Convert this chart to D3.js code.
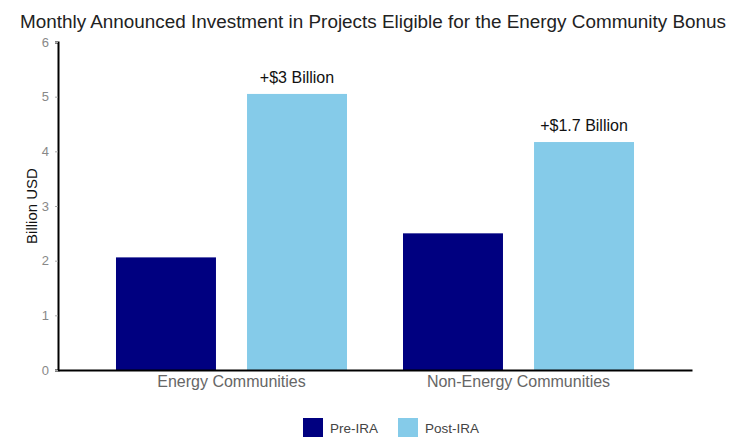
<!DOCTYPE html>
<html lang="en">
<head>
    <meta charset="UTF-8">
    <title>Energy Community Bonus</title>
    <script src="https://cdn.jsdelivr.net/npm/d3@7"></script>
    <style>
        body { margin: 0; background: #fff; }
        #chart { width: 731px; height: 439px; }
        text { font-family: "Liberation Sans", Arial, sans-serif; }
    </style>
</head>
<body>
<div id="chart"></div>
<script type="text/javascript">
    var categories = ['Energy Communities', 'Non-Energy Communities'];
    var series = ['Pre-IRA', 'Post-IRA'];
    var preIRA = [2.06, 2.5];
    var postIRA = [5.05, 4.17];
    var changeLabels = ['+$3 Billion', '+$1.7 Billion'];
    var yTicks = [0, 1, 2, 3, 4, 5, 6];
    var colors = ['#000080', '#85cbe9'];

    var svgw = 731, svgh = 439;
    var margin = {left: 58, right: 39, top: 42, bottom: 69};

    var svg = d3.select('#chart')
        .append('svg')
        .attr('width', svgw)
        .attr('height', svgh);

    var rows = categories.map(function (c, i) {
        return {cat: c, values: [preIRA[i], postIRA[i]], label: changeLabels[i]};
    });

    var x0 = d3.scaleBand()
        .domain(categories)
        .range([margin.left, svgw - margin.right])
        .paddingInner(0)
        .paddingOuter(0.1045);

    var x1 = d3.scaleBand()
        .domain(series)
        .range([28, x0.bandwidth() - 28])
        .paddingInner(0.237)
        .paddingOuter(0);

    var y = d3.scaleLinear()
        .domain([0, 6])
        .range([svgh - margin.bottom, margin.top]);

    // title
    svg.append('text')
        .attr('x', 373)
        .attr('y', 28)
        .attr('text-anchor', 'middle')
        .attr('font-size', 18)
        .attr('textLength', 706)
        .attr('lengthAdjust', 'spacingAndGlyphs')
        .attr('fill', '#222')
        .text('Monthly Announced Investment in Projects Eligible for the Energy Community Bonus');

    // bars
    var groups = svg.selectAll('.grp')
        .data(rows)
        .enter()
        .append('g')
        .attr('class', 'grp')
        .attr('transform', function (d) { return 'translate(' + x0(d.cat) + ',0)'; });

    groups.selectAll('rect')
        .data(function (d) { return d.values.map(function (v, i) { return {s: series[i], v: v, i: i}; }); })
        .enter()
        .append('rect')
        .attr('x', function (d) { return x1(d.s); })
        .attr('y', function (d) { return y(d.v); })
        .attr('width', x1.bandwidth())
        .attr('height', function (d) { return y(0) - y(d.v); })
        .attr('fill', function (d) { return colors[d.i]; });

    groups.append('text')
        .attr('x', function () { return x1('Post-IRA') + x1.bandwidth() / 2; })
        .attr('y', function (d) { return y(d.values[1]) - 11; })
        .attr('text-anchor', 'middle')
        .attr('font-size', 16)
        .attr('fill', '#111')
        .text(function (d) { return d.label; });

    // y axis
    var yAxis = d3.axisLeft(y).tickValues(yTicks).tickFormat(d3.format('d')).tickSize(3).tickPadding(6);
    var gy = svg.append('g')
        .attr('transform', 'translate(' + margin.left + ',0)')
        .call(yAxis);
    gy.select('.domain').attr('stroke', '#000').attr('stroke-width', 2);
    gy.selectAll('.tick line').attr('stroke', '#aaa');
    gy.selectAll('.tick text').attr('fill', '#888').attr('font-size', 13)
        .attr('font-family', '"Liberation Sans", Arial, sans-serif');

    // x axis
    var xAxis = d3.axisBottom(x0).tickSize(0).tickPadding(6);
    var gx = svg.append('g')
        .attr('transform', 'translate(0,' + y(0) + ')')
        .call(xAxis);
    gx.select('.domain').attr('stroke', '#000').attr('stroke-width', 2);
    gx.selectAll('.tick text').attr('fill', '#666').attr('font-size', 16)
        .attr('font-family', '"Liberation Sans", Arial, sans-serif');

    // y label
    svg.append('text')
        .attr('transform', 'translate(37,' + y(3) + ') rotate(-90)')
        .attr('text-anchor', 'middle')
        .attr('font-size', 15)
        .attr('fill', '#111')
        .text('Billion USD');

    // legend
    var legendX = [303, 398];
    var legend = svg.selectAll('.leg')
        .data(series)
        .enter()
        .append('g')
        .attr('class', 'leg')
        .attr('transform', function (d, i) { return 'translate(' + legendX[i] + ',418)'; });
    legend.append('rect')
        .attr('width', 20)
        .attr('height', 19)
        .attr('fill', function (d, i) { return colors[i]; });
    legend.append('text')
        .attr('x', 27)
        .attr('y', 15)
        .attr('font-size', 13.5)
        .attr('fill', '#444')
        .text(function (d) { return d; });
</script>
</body>
</html>
